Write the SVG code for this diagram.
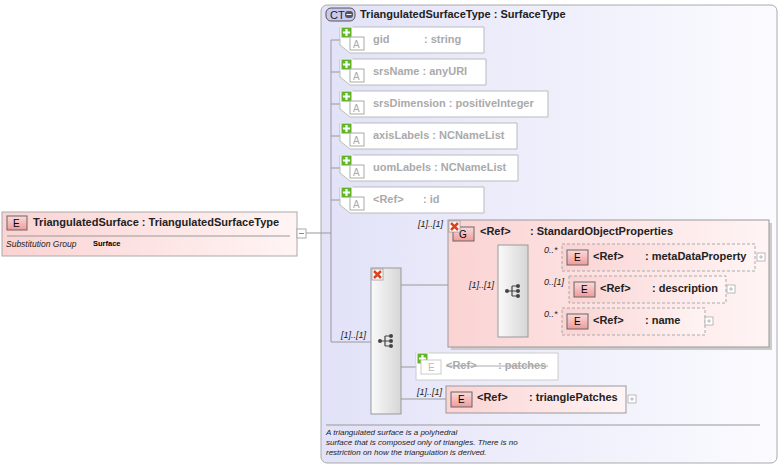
<svg xmlns="http://www.w3.org/2000/svg" width="783" height="468" viewBox="0 0 783 468">
<defs>
<linearGradient id="ct" x1="0" y1="0" x2="1" y2="0"><stop offset="0" stop-color="#e2e2f8"/><stop offset="1" stop-color="#fbfbff"/></linearGradient>
<linearGradient id="pk" x1="0" y1="0" x2="1" y2="0"><stop offset="0" stop-color="#fbd3d3"/><stop offset="1" stop-color="#fff4f4"/></linearGradient>
<linearGradient id="seq" x1="0" y1="0" x2="1" y2="0"><stop offset="0" stop-color="#fafafa"/><stop offset="1" stop-color="#d6d6d6"/></linearGradient>
<linearGradient id="badge" x1="0" y1="0" x2="0" y2="1"><stop offset="0" stop-color="#fbdada"/><stop offset="1" stop-color="#f09a9a"/></linearGradient>
<g id="plus"><rect x="0" y="0" width="11" height="11" fill="#5eb526" stroke="#fff" stroke-width="1"/><path d="M5.5 2v7M2 5.5h7" stroke="#fff" stroke-width="2.2"/></g>
<g id="xx"><rect x="0" y="0" width="11" height="11" fill="#fff" stroke="#999" stroke-width="0.8"/><path d="M2 2l7 7M9 2l-7 7" stroke="#d42" stroke-width="2.5"/></g>
<g id="exp"><rect x="0" y="0" width="8" height="8" fill="#fff" stroke="#aaa" stroke-width="0.8"/><path d="M2 4h4M4 2v4" stroke="#aaa" stroke-width="0.8"/></g>
<g id="seqicon"><path d="M-6 0h5M-1 -5v10M-1 -5h5M-1 0h5M-1 5h5" stroke="#444" fill="none" stroke-width="1.2"/><circle cx="-6" cy="0" r="2" fill="#444"/><circle cx="5" cy="-5" r="2" fill="#444"/><circle cx="5" cy="0" r="2" fill="#444"/><circle cx="5" cy="5" r="2" fill="#444"/></g>
</defs>
<style>
text{font-family:"Liberation Sans",Arial,sans-serif}
.b{font-weight:bold;font-size:11px;fill:#222}
.g{font-weight:bold;font-size:11px;fill:#aaa}
.m{font-style:italic;font-size:9px;fill:#222}
.attr{fill:#fff;stroke:#bbb}
.ln{stroke:#999;fill:none}
.el{fill:url(#pk);stroke:#999}
.dash{fill:url(#pk);stroke:#aaa;stroke-dasharray:3,2}
</style>
<rect x="321" y="5" width="456" height="458" rx="6" fill="url(#ct)" stroke="#aaa"/>
<g id="ct-head"><rect x="326" y="8" width="29" height="13" rx="5" fill="#c8c8f0" stroke="#555"/><text x="330" y="18.5" style="font-size:11px;fill:#222">CT</text><rect x="345" y="11" width="8" height="7" rx="3" fill="#556"/><path d="M346.5 14.5h5" stroke="#fff"/><text x="360" y="18" class="b">TriangulatedSurfaceType : SurfaceType</text></g>

<g id="connectors">
<path class="ln" d="M306 233H321M321 233H331M331 40V342H371M331 40H340M331 72H340M331 104H340M331 136H340M331 168H340M331 200H340"/>
<path class="ln" d="M401 285H448M448 291H498M528 258H562M528 290H569M528 322H562M401 367H416M401 399H446"/>
</g>

<g id="root">
<rect x="2" y="212" width="295" height="44" fill="url(#pk)" stroke="#aaa"/>
<rect x="7" y="216" width="20" height="14" fill="url(#badge)" stroke="#666"/><text x="13" y="227" style="font-size:10px">E</text>
<text x="33" y="226" class="b">TriangulatedSurface : TriangulatedSurfaceType</text>
<path d="M7 236H290" stroke="#999"/>
<text x="6" y="247" class="m" style="font-size:8.5px">Substitution Group</text>
<text x="93" y="246" style="font-size:7.5px;font-weight:bold">Surface</text>
<rect x="297" y="229" width="9" height="9" fill="#fff" stroke="#aaa"/><path d="M299 233.5h5" stroke="#888"/>
</g>

<g id="attrs">
<g id="a1"><path class="attr" d="M340 27H484V53H350L340 45Z"/><use href="#plus" x="341" y="27"/><rect x="350" y="37" width="14" height="13" fill="#fff" stroke="#aaa"/><text x="353" y="48" style="font-size:10px;fill:#aaa">A</text><text x="373" y="43" class="g">gid</text><text x="424" y="43" class="g">: string</text></g>
<g id="a2"><path class="attr" d="M340 59H486V85H350L340 77Z"/><use href="#plus" x="341" y="59"/><rect x="350" y="69" width="14" height="13" fill="#fff" stroke="#aaa"/><text x="353" y="80" style="font-size:10px;fill:#aaa">A</text><text x="373" y="75" class="g">srsName : anyURI</text></g>
<g id="a3"><path class="attr" d="M340 91H548V117H350L340 109Z"/><use href="#plus" x="341" y="91"/><rect x="350" y="101" width="14" height="13" fill="#fff" stroke="#aaa"/><text x="353" y="112" style="font-size:10px;fill:#aaa">A</text><text x="373" y="107" class="g">srsDimension : positiveInteger</text></g>
<g id="a4"><path class="attr" d="M340 123H517V149H350L340 141Z"/><use href="#plus" x="341" y="123"/><rect x="350" y="133" width="14" height="13" fill="#fff" stroke="#aaa"/><text x="353" y="144" style="font-size:10px;fill:#aaa">A</text><text x="373" y="139" class="g">axisLabels : NCNameList</text></g>
<g id="a5"><path class="attr" d="M340 155H518V181H350L340 173Z"/><use href="#plus" x="341" y="155"/><rect x="350" y="165" width="14" height="13" fill="#fff" stroke="#aaa"/><text x="353" y="176" style="font-size:10px;fill:#aaa">A</text><text x="373" y="171" class="g">uomLabels : NCNameList</text></g>
<g id="a6"><path class="attr" d="M340 187H484V213H350L340 205Z"/><use href="#plus" x="341" y="187"/><rect x="350" y="197" width="14" height="13" fill="#fff" stroke="#aaa"/><text x="353" y="208" style="font-size:10px;fill:#aaa">A</text><text x="373" y="203" class="g">&lt;Ref&gt;</text><text x="423" y="203" class="g">: id</text></g>
</g>

<g id="seq1">
<text x="341" y="338" class="m">[1]..[1]</text>
<rect x="371" y="268" width="30" height="146" fill="url(#seq)" stroke="#999"/>
<use href="#xx" x="372" y="269"/>
<use href="#seqicon" x="386" y="341"/>
</g>

<g id="group">
<rect x="451" y="223" width="321" height="127" fill="#ccc"/>
<rect x="448" y="220" width="321" height="127" class="el"/>
<text x="418" y="227" class="m">[1]..[1]</text>
<rect x="453" y="227" width="21" height="14" fill="url(#badge)" stroke="#666"/><text x="459" y="238" style="font-size:10px">G</text>
<use href="#xx" x="449" y="221"/>
<text x="480" y="235" class="b">&lt;Ref&gt;</text><text x="530" y="235" class="b">: StandardObjectProperties</text>
<text x="469" y="288" class="m">[1]..[1]</text>
<rect x="498" y="245" width="30" height="92" fill="url(#seq)" stroke="#999"/>
<use href="#seqicon" x="513" y="291"/>
</g>

<g id="meta">
<text x="544" y="253" class="m">0..*</text>
<rect x="562" y="244" width="193" height="27" class="dash"/>
<rect x="567" y="250" width="21" height="15" fill="url(#badge)" stroke="#666"/><text x="574" y="261" style="font-size:10px">E</text>
<text x="593" y="260" class="b">&lt;Ref&gt;</text><text x="645" y="260" class="b">: metaDataProperty</text>
<use href="#exp" x="757" y="253"/>
</g>
<g id="desc">
<text x="544" y="285" class="m">0..[1]</text>
<rect x="569" y="276" width="157" height="27" class="dash"/>
<rect x="574" y="282" width="21" height="15" fill="url(#badge)" stroke="#666"/><text x="581" y="293" style="font-size:10px">E</text>
<text x="600" y="292" class="b">&lt;Ref&gt;</text><text x="652" y="292" class="b">: description</text>
<use href="#exp" x="727" y="285"/>
</g>
<g id="name">
<text x="544" y="317" class="m">0..*</text>
<rect x="562" y="308" width="143" height="27" class="dash"/>
<rect x="567" y="314" width="21" height="15" fill="url(#badge)" stroke="#666"/><text x="574" y="325" style="font-size:10px">E</text>
<text x="593" y="324" class="b">&lt;Ref&gt;</text><text x="645" y="324" class="b">: name</text>
<use href="#exp" x="705" y="317"/>
</g>

<g id="patches">
<rect x="416" y="353" width="142" height="27" fill="#fff" stroke="#ccc"/>
<use href="#plus" x="417" y="353"/>
<rect x="421" y="360" width="20" height="14" fill="#fff" stroke="#ccc"/><text x="428" y="371" style="font-size:10px;fill:#bbb">E</text>
<text x="446" y="369" class="g">&lt;Ref&gt;</text><text x="498" y="369" class="g">: patches</text>
<path d="M446 366H548" stroke="#aaa"/>
</g>
<g id="tri">
<text x="417" y="395" class="m">[1]..[1]</text>
<rect x="446" y="386" width="180" height="27" class="el"/>
<rect x="451" y="392" width="21" height="15" fill="url(#badge)" stroke="#666"/><text x="458" y="403" style="font-size:10px">E</text>
<text x="477" y="401" class="b">&lt;Ref&gt;</text><text x="529" y="401" class="b">: trianglePatches</text>
<use href="#exp" x="628" y="395"/>
</g>

<g id="doc">
<path d="M326 425H760" stroke="#999"/>
<text x="326" y="435" class="m" style="font-size:8px">A triangulated surface is a polyhedral</text>
<text x="326" y="445" class="m" style="font-size:8px">surface that is composed only of triangles. There is no</text>
<text x="326" y="455" class="m" style="font-size:8px">restriction on how the triangulation is derived.</text>
</g>
</svg>
